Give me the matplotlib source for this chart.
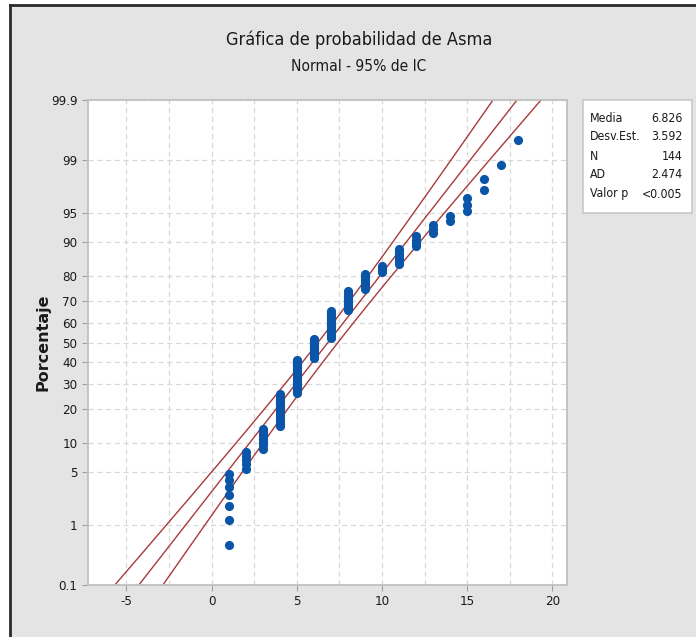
import numpy as np
import matplotlib
matplotlib.use('Agg')
import matplotlib.pyplot as plt
from matplotlib.patches import Rectangle
from matplotlib.lines import Line2D
from statistics import NormalDist

# Datos: valores de Asma y cuántas veces aparece cada uno
valores = [1, 2, 3, 4, 5, 6, 7, 8, 9, 10, 11, 12, 13, 14, 15, 16, 17, 18]
frecuencias = [7, 5, 8, 17, 23, 15, 20, 13, 9, 4, 7, 4, 3, 2, 3, 2, 1, 1]

y_ticks = [0.1, 1, 5, 10, 20, 30, 40, 50, 60, 70, 80, 90, 95, 99, 99.9]
y_labels = ['0.1', '1', '5', '10', '20', '30', '40', '50', '60', '70', '80',
            '90', '95', '99', '99.9']
x_ticks = [-5, 0, 5, 10, 15, 20]

etiquetas_stats = ['Media', 'Desv.Est.', 'N', 'AD', 'Valor p']
valores_stats = ['6.826', '3.592', '144', '2.474', '<0.005']
media = 6.826
desv = 3.592

plt.rcParams['font.family'] = ['Liberation Sans Narrow', 'DejaVu Sans']
plt.rcParams['font.stretch'] = 'condensed'
plt.rcParams['axes.unicode_minus'] = False

nd = NormalDist()
_ppf = np.vectorize(nd.inv_cdf, otypes=[float])
_cdf = np.vectorize(nd.cdf, otypes=[float])


def a_z(p):
    p = np.clip(np.asarray(p, dtype=float) / 100.0, 1e-9, 1 - 1e-9)
    return _ppf(p)


def a_p(z):
    return _cdf(np.asarray(z, dtype=float)) * 100.0


asma = np.repeat(valores, frecuencias)
n = len(asma)
rangos = np.arange(1, n + 1)
pct = (rangos - 0.3) / (n + 0.4) * 100  # posiciones de Benard

fig = plt.figure(figsize=(6.96, 6.37), dpi=100, facecolor='white')
fig.patches.append(Rectangle((0.0144, 0), 1, 0.992, transform=fig.transFigure,
                             facecolor='#e4e4e4', edgecolor='none',
                             zorder=-10))
fig.lines.append(Line2D([0.0144, 1], [0.992, 0.992], transform=fig.transFigure,
                        color='#2a2a2a', lw=2))
fig.lines.append(Line2D([0.0144, 0.0144], [0, 0.992], transform=fig.transFigure,
                        color='#2a2a2a', lw=2))

ax = fig.add_axes([0.1264, 0.0816, 0.688, 0.7614])
ax.set_facecolor('white')
ax.set_yscale('function', functions=(a_z, a_p))

# recta ajustada e intervalos de confianza del 95%
z = np.linspace(-3.6, 3.6, 200)
xp = media + z * desv
se = desv * np.sqrt(1.0 / n + z ** 2 / (2.0 * n))
p_linea = a_p(z)
ax.plot(xp, p_linea, color='#a83a3a', lw=1)
ax.plot(xp - 1.96 * se, p_linea, color='#a83a3a', lw=1)
ax.plot(xp + 1.96 * se, p_linea, color='#a83a3a', lw=1)

ax.plot(asma, pct, 'o', color='#0a55a8', markersize=6.6, markeredgewidth=0,
        zorder=3)

ax.set_xlim(-7.26, 20.85)
ax.set_ylim(0.1, 99.9)
ax.set_yticks(y_ticks)
ax.set_yticklabels(y_labels)
ax.set_xticks(x_ticks)
ax.set_xticks(np.arange(-5, 20.1, 2.5), minor=True)
ax.yaxis.set_minor_locator(matplotlib.ticker.NullLocator())

ax.grid(True, which='both', axis='x', color='#d8d8d8', ls=(0, (4, 3)), lw=0.9)
ax.grid(True, which='major', axis='y', color='#d8d8d8', ls=(0, (4, 3)), lw=0.9)
ax.tick_params(axis='both', which='major', labelsize=9.5, color='#a0a0a0',
               length=4, width=0.8, labelcolor='#1a1a1a')
ax.tick_params(axis='x', which='minor', length=0)
for s in ax.spines.values():
    s.set_color('#c0c0c0')
    s.set_linewidth(1.3)

fig.text(0.062, 0.463, 'Porcentaje', rotation=90, ha='center', va='center',
         fontsize=11.5, fontweight='bold', family='DejaVu Sans',
         fontstretch='normal', color='#1a1a1a')

fig.text(0.516, 0.937, 'Gráfica de probabilidad de Asma', ha='center',
         va='center', fontsize=13, color='#1a1a1a')
fig.text(0.516, 0.896, 'Normal - 95% de IC', ha='center', va='center',
         fontsize=11.2, color='#1a1a1a')

# cuadro de estadísticos
fig.patches.append(Rectangle((0.8376, 0.6656), 0.1567, 0.1774,
                             transform=fig.transFigure, facecolor='white',
                             edgecolor='#c8c8c8', lw=1.2, zorder=1))
for k, (et, va) in enumerate(zip(etiquetas_stats, valores_stats)):
    yy = 1 - (118 + k * 19) / 637
    fig.text(0.848, yy, et, ha='left', va='center', fontsize=8.8,
             color='#1a1a1a')
    fig.text(0.981, yy, va, ha='right', va='center', fontsize=8.8,
             color='#1a1a1a')

fig.savefig('out.png', dpi=100, facecolor=fig.get_facecolor())
